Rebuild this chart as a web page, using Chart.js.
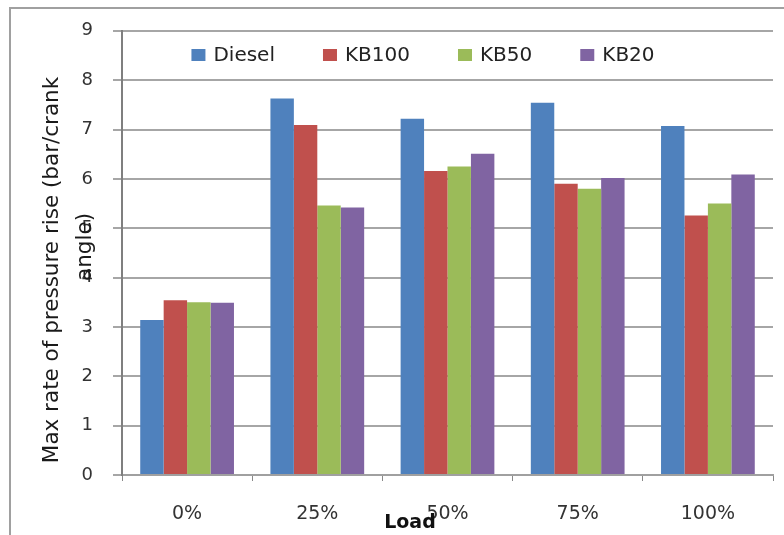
<!DOCTYPE html>
<html>
<head>
<meta charset="utf-8">
<script src="https://cdn.jsdelivr.net/npm/chart.js@4/dist/chart.umd.min.js"></script>
<style>
html,body{margin:0;padding:0;background:#fff;}
canvas{display:block;}
</style>
</head>
<body>
<canvas id="c" width="784" height="535"></canvas>
<script>
const categories = ["0%", "25%", "50%", "75%", "100%"];
const diesel = [3.14, 7.63, 7.22, 7.54, 7.07];
const kb100  = [3.54, 7.09, 6.16, 5.90, 5.26];
const kb50   = [3.50, 5.46, 6.25, 5.80, 5.50];
const kb20   = [3.49, 5.42, 6.51, 6.02, 6.09];
const seriesNames = ["Diesel", "KB100", "KB50", "KB20"];
const yTitleLines = ["Max rate of pressure rise (bar/crank", "angle)"];
const xTitle = "Load";

const FONT = "'DejaVu Sans', sans-serif";

const extras = {
  id: 'extras',
  beforeDraw(chart) {
    const ctx = chart.ctx;
    ctx.save();
    ctx.fillStyle = '#fff';
    ctx.fillRect(0, 0, chart.width, chart.height);
    ctx.strokeStyle = '#a0a0a0';
    ctx.lineWidth = 2;
    ctx.strokeRect(10, 8, chart.width + 20, chart.height + 20);
    ctx.restore();
  },
  afterDraw(chart) {
    const ctx = chart.ctx;
    // legend inside plot area, horizontal
    ctx.save();
    ctx.font = "20px " + FONT;
    ctx.textBaseline = 'middle';
    ctx.textAlign = 'left';
    const boxW = 14, boxH = 12, gapText = 8, gapItem = 48;
    const items = chart.data.datasets.map(d => ({
      label: d.label, color: d.backgroundColor,
      w: boxW + gapText + ctx.measureText(d.label).width
    }));
    const total = items.reduce((a, it) => a + it.w, 0) + gapItem * (items.length - 1);
    let x = 423 - total / 2;
    const cy = 55;
    items.forEach(it => {
      ctx.fillStyle = it.color;
      ctx.fillRect(x, cy - boxH / 2, boxW, boxH);
      ctx.fillStyle = '#222';
      ctx.fillText(it.label, x + boxW + gapText, cy + 1);
      x += it.w + gapItem;
    });
    ctx.restore();

    ctx.save();
    ctx.fillStyle = '#1a1a1a';
    ctx.textAlign = 'center';
    ctx.textBaseline = 'middle';
    ctx.font = "21.5px " + FONT;
    ctx.translate(52, 270);
    ctx.rotate(-Math.PI / 2);
    ctx.fillText(yTitleLines[0], 0, 0);
    ctx.restore();
    ctx.save();
    ctx.fillStyle = '#1a1a1a';
    ctx.textAlign = 'center';
    ctx.textBaseline = 'middle';
    ctx.font = "21.5px " + FONT;
    ctx.translate(85, 247);
    ctx.rotate(-Math.PI / 2);
    ctx.fillText(yTitleLines[1], 0, 0);
    ctx.restore();
    ctx.save();
    ctx.fillStyle = '#111';
    ctx.textAlign = 'center';
    ctx.textBaseline = 'middle';
    ctx.font = "bold 19px " + FONT;
    ctx.fillText(xTitle, 410, 523);
    ctx.restore();
  }
};

const colors = ['#4F81BD', '#C0504D', '#9BBB59', '#8064A2'];
const values = [diesel, kb100, kb50, kb20];

new Chart(document.getElementById('c'), {
  type: 'bar',
  data: {
    labels: categories,
    datasets: seriesNames.map((n, i) => ({
      label: n,
      data: values[i],
      backgroundColor: colors[i],
      borderWidth: 0
    }))
  },
  options: {
    responsive: false,
    animation: false,
    devicePixelRatio: 1,
    datasets: { bar: { categoryPercentage: 0.72, barPercentage: 1.0 } },
    layout: { padding: { left: 0, right: 11, top: 23, bottom: 0 } },
    plugins: {
      legend: { display: false },
      tooltip: { enabled: false }
    },
    scales: {
      x: {
        offset: true,
        grid: {
          display: true,
          drawOnChartArea: false,
          drawTicks: true,
          offset: true,
          tickLength: 6,
          color: '#888'
        },
        border: { display: true, color: '#a0a0a0', width: 2 },
        ticks: {
          font: { family: FONT, size: 19 },
          color: '#333',
          padding: 22
        },
        afterFit(s) { s.height = 60; }
      },
      y: {
        min: 0,
        max: 9,
        ticks: {
          stepSize: 1,
          font: { family: FONT, size: 18 },
          color: '#333',
          padding: 20
        },
        grid: {
          color: '#a6a6a6',
          lineWidth: 2,
          tickLength: 9,
          drawTicks: true
        },
        border: { display: true, color: '#7f7f7f', width: 2 },
        afterFit(s) { s.width = 122; }
      }
    }
  },
  plugins: [extras]
});
</script>
</body>
</html>
